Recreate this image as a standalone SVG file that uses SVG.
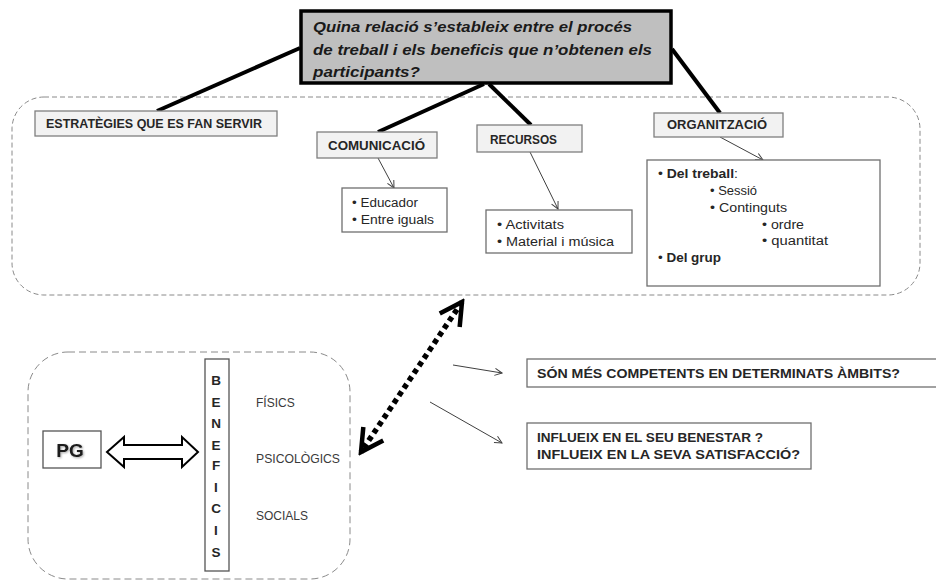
<svg xmlns="http://www.w3.org/2000/svg" width="936" height="581" viewBox="0 0 936 581">
  <defs>
    <style>
      .lbl { font-family: "Liberation Sans", Arial, sans-serif; font-size: 12px; font-weight: bold; fill: #262626; }
      .txt { font-family: "Liberation Sans", Arial, sans-serif; font-size: 12.5px; fill: #262626; }
      .txtb { font-weight: bold; }
      .cat { font-family: "Liberation Sans", Arial, sans-serif; font-size: 12px; fill: #3a3a3a; }
      .q { font-family: "Liberation Sans", Arial, sans-serif; font-size: 15px; font-weight: bold; font-style: italic; fill: #1a1a1a; }
      .head { fill: #f2f2f2; stroke: #7f7f7f; stroke-width: 1.3; }
      .plain { fill: #ffffff; stroke: #6f6f6f; stroke-width: 1.3; }
      .zone { fill: none; stroke: #8a8a8a; stroke-width: 1; }
      .thick { stroke: #000; stroke-width: 4; stroke-linecap: butt; fill: none; }
      .thin { stroke: #404040; stroke-width: 1; fill: none; }
    </style>
    <marker id="openHead" viewBox="0 0 10 10" refX="9" refY="5" markerWidth="9" markerHeight="9" markerUnits="userSpaceOnUse" orient="auto">
      <path d="M1,1 L9,5 L1,9" fill="none" stroke="#404040" stroke-width="1.1"/>
    </marker>
    <marker id="boldHead" viewBox="0 0 30 30" refX="26" refY="15" markerWidth="30" markerHeight="30" markerUnits="userSpaceOnUse" orient="auto-start-reverse">
      <path d="M4,3 L26,15 L4,27" fill="none" stroke="#000" stroke-width="4.5" stroke-linejoin="miter"/>
    </marker>
    <filter id="soft" x="-20%" y="-20%" width="140%" height="140%">
      <feDropShadow dx="1" dy="1" stdDeviation="0.8" flood-color="#000" flood-opacity="0.35"/>
    </filter>
  </defs>

  <!-- grouping frames -->
  <rect id="zone-strategies" class="zone" x="12" y="97" width="908" height="198" rx="32" ry="32" stroke-dasharray="5,3"/>
  <rect id="zone-benefits" class="zone" x="28" y="352" width="322" height="227" rx="40" ry="40" stroke-dasharray="7,4"/>

  <!-- connectors -->
  <g id="connectors">
    <line class="thick" x1="300" y1="48" x2="157" y2="111"/>
    <line class="thick" x1="484" y1="84" x2="378" y2="132"/>
    <line class="thick" x1="489" y1="84" x2="531" y2="125"/>
    <line class="thick" x1="672" y1="49" x2="720" y2="113"/>

    <line class="thin" x1="378" y1="158" x2="394" y2="188" marker-end="url(#openHead)"/>
    <line class="thin" x1="530" y1="152" x2="558" y2="209" marker-end="url(#openHead)"/>
    <line class="thin" x1="720" y1="137" x2="763" y2="160" marker-end="url(#openHead)"/>

    <line x1="462" y1="302" x2="361" y2="452" stroke="#000" stroke-width="5.5" stroke-dasharray="5,4" marker-start="url(#boldHead)" marker-end="url(#boldHead)"/>

    <line class="thin" x1="453" y1="365" x2="502" y2="373" marker-end="url(#openHead)"/>
    <line class="thin" x1="430" y1="402" x2="502" y2="443" marker-end="url(#openHead)"/>

    <path id="pg-link" d="M107,452 L124,437 L124,445 L182,445 L182,437 L198,452 L182,467 L182,459 L124,459 L124,467 Z" fill="#fff" stroke="#000" stroke-width="2" stroke-linejoin="miter"/>
  </g>

  <!-- central question -->
  <g id="question">
    <rect x="301" y="11" width="370" height="72" fill="#bfbfbf" stroke="#000" stroke-width="3.5"/>
    <text class="q" x="313" y="32" textLength="319" lengthAdjust="spacingAndGlyphs">Quina relació s’estableix entre el procés</text>
    <text class="q" x="313" y="55" textLength="339" lengthAdjust="spacingAndGlyphs">de treball i els beneficis que n’obtenen els</text>
    <text class="q" x="313" y="77" textLength="107" lengthAdjust="spacingAndGlyphs">participants?</text>
  </g>

  <g id="estrategies">
    <rect class="head" x="35" y="111" width="242" height="25"/>
    <text class="lbl" x="46" y="128" textLength="216" lengthAdjust="spacingAndGlyphs">ESTRATÈGIES QUE ES FAN SERVIR</text>
  </g>

  <g id="comunicacio">
    <rect class="head" x="317" y="132" width="120" height="26"/>
    <text class="lbl" x="328" y="150" textLength="97" lengthAdjust="spacingAndGlyphs">COMUNICACIÓ</text>
  </g>

  <g id="comunicacio-items">
    <rect class="plain" x="342" y="188" width="105" height="44"/>
    <text class="txt" x="352" y="207" textLength="66" lengthAdjust="spacingAndGlyphs">• Educador</text>
    <text class="txt" x="352" y="224" textLength="82" lengthAdjust="spacingAndGlyphs">• Entre iguals</text>
  </g>

  <g id="recursos">
    <rect class="head" x="477" y="125" width="105" height="27"/>
    <text class="lbl" x="490" y="144" textLength="67" lengthAdjust="spacingAndGlyphs">RECURSOS</text>
  </g>

  <g id="recursos-items">
    <rect class="plain" x="486" y="210" width="146" height="43"/>
    <text class="txt" x="497" y="229" textLength="67" lengthAdjust="spacingAndGlyphs">• Activitats</text>
    <text class="txt" x="497" y="246" textLength="117" lengthAdjust="spacingAndGlyphs">• Material i música</text>
  </g>

  <g id="organitzacio">
    <rect class="head" x="654" y="113" width="129" height="24"/>
    <text class="lbl" x="667" y="129" textLength="100" lengthAdjust="spacingAndGlyphs">ORGANITZACIÓ</text>
  </g>

  <g id="organitzacio-items">
    <rect class="plain" x="647" y="160" width="233" height="126"/>
    <text class="txt" x="658" y="178" textLength="80" lengthAdjust="spacingAndGlyphs">• <tspan class="txtb">Del treball</tspan>:</text>
    <text class="txt" x="710" y="195" textLength="47" lengthAdjust="spacingAndGlyphs">• Sessió</text>
    <text class="txt" x="710" y="212" textLength="77" lengthAdjust="spacingAndGlyphs">• Continguts</text>
    <text class="txt" x="762" y="229" textLength="42" lengthAdjust="spacingAndGlyphs">• ordre</text>
    <text class="txt" x="762" y="245" textLength="66" lengthAdjust="spacingAndGlyphs">• quantitat</text>
    <text class="txt" x="658" y="262" textLength="63" lengthAdjust="spacingAndGlyphs">• <tspan class="txtb">Del grup</tspan></text>
  </g>

  <g id="pg">
    <rect x="43" y="431" width="58" height="37" fill="#fff" stroke="#555" stroke-width="1.3"/>
    <text x="70" y="457" text-anchor="middle" font-family="Liberation Sans, Arial, sans-serif" font-size="19" font-weight="bold" fill="#1a1a1a" filter="url(#soft)">PG</text>
  </g>

  <g id="beneficis">
    <rect x="205" y="359" width="24" height="212" fill="#fff" stroke="#555" stroke-width="1.3"/>
    <g class="lbl" text-anchor="middle" style="font-size:13.5px">
      <text x="216" y="385">B</text>
      <text x="216" y="407">E</text>
      <text x="216" y="428">N</text>
      <text x="216" y="450">E</text>
      <text x="216" y="470">F</text>
      <text x="216" y="492">I</text>
      <text x="216" y="513">C</text>
      <text x="216" y="535">I</text>
      <text x="216" y="557">S</text>
    </g>
  </g>

  <g id="categories">
    <text class="cat" x="256" y="407">FÍSICS</text>
    <text class="cat" x="256" y="463" textLength="84" lengthAdjust="spacingAndGlyphs">PSICOLÒGICS</text>
    <text class="cat" x="256" y="520">SOCIALS</text>
  </g>

  <g id="competents">
    <rect x="527" y="359" width="410" height="28" fill="#fff" stroke="#6f6f6f" stroke-width="1.3"/>
    <text class="lbl" x="537" y="378" textLength="363" lengthAdjust="spacingAndGlyphs">SÓN MÉS COMPETENTS EN DETERMINATS ÀMBITS?</text>
  </g>

  <g id="benestar">
    <rect x="527" y="423" width="284" height="46" fill="#fff" stroke="#6f6f6f" stroke-width="1.3"/>
    <text class="lbl" x="537" y="442" textLength="226" lengthAdjust="spacingAndGlyphs">INFLUEIX  EN EL SEU BENESTAR ?</text>
    <text class="lbl" x="537" y="459" textLength="263" lengthAdjust="spacingAndGlyphs">INFLUEIX EN  LA SEVA SATISFACCIÓ?</text>
  </g>
</svg>
